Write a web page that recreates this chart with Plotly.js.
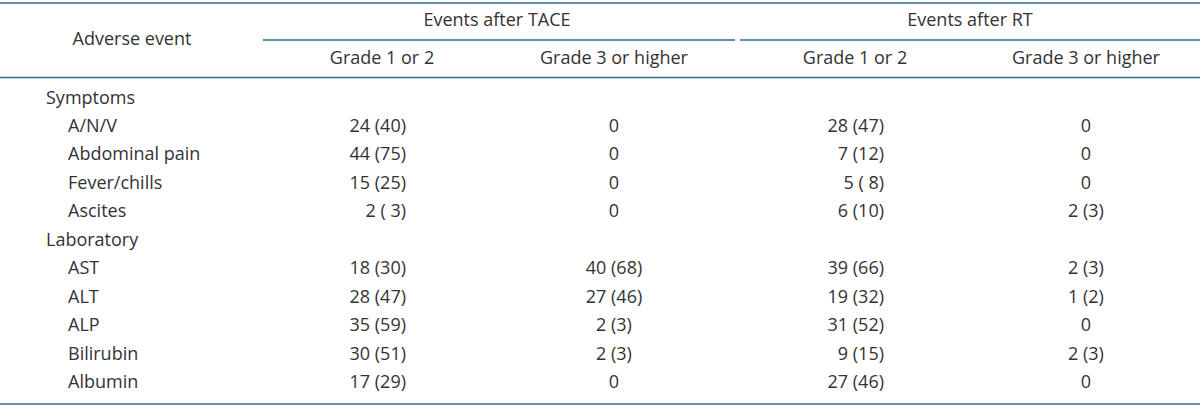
<!DOCTYPE html>
<html>
<head>
<meta charset="utf-8">
<script src="https://cdn.plot.ly/plotly-3.0.1.min.js"></script>
<style>
  html, body { margin: 0; padding: 0; background: #fff; }
  #table { width: 1200px; height: 408px; }
</style>
</head>
<body>
<div id="table"></div>
<script>
// Table content
var groups = ['Symptoms', 'Laboratory'];
var symptomItems = ['A/N/V', 'Abdominal pain', 'Fever/chills', 'Ascites'];
var labItems = ['AST', 'ALT', 'ALP', 'Bilirubin', 'Albumin'];

// n and % per item (symptoms first, then laboratory)
var taceLowN = [24, 44, 15, 2, 18, 28, 35, 30, 17];
var taceLowP = [40, 75, 25, 3, 30, 47, 59, 51, 29];
var taceHighN = [0, 0, 0, 0, 40, 27, 2, 2, 0];
var taceHighP = [0, 0, 0, 0, 68, 46, 3, 3, 0];
var rtLowN = [28, 7, 5, 6, 39, 19, 31, 9, 27];
var rtLowP = [47, 12, 8, 10, 66, 32, 52, 15, 46];
var rtHighN = [0, 0, 0, 2, 2, 1, 0, 2, 0];
var rtHighP = [0, 0, 0, 3, 3, 2, 0, 3, 0];

var topHeaders = ['Adverse event', 'Events after TACE', 'Events after RT'];
var subHeaders = ['Grade 1 or 2', 'Grade 3 or higher', 'Grade 1 or 2', 'Grade 3 or higher'];

// grade 1/2 columns pad single digit percents, e.g. "2 ( 3)"
function fmt(n, p, pad) {
    if (n === 0) return '0';
    var ps = String(p);
    if (pad && ps.length < 2) ps = ' ' + ps;
    return n + ' (' + ps + ')';
}

// layout constants (pixels)
var rowTop = 99, rowStep = 28.45;
var groupX = 46, itemX = 68;
var colX = [406, 614, 884, 1086];
var ink = '#333333';
var rule = '#2f6f8f';
var fontFam = 'Open Sans, sans-serif';
var fs = 18;

// rows: group label followed by its items
var labelText = [], labelX = [], labelY = [];
var itemRows = [];
var r = 0;
[symptomItems, labItems].forEach(function(items, g) {
    labelText.push(groups[g]); labelX.push(groupX); labelY.push(rowTop + r * rowStep); r++;
    items.forEach(function(it) {
        labelText.push(it); labelX.push(itemX); labelY.push(rowTop + r * rowStep);
        itemRows.push(rowTop + r * rowStep); r++;
    });
});

function col(nArr, pArr, pad) {
    return nArr.map(function(n, i) { return fmt(n, pArr[i], pad); });
}

function textTrace(x, y, text, pos) {
    return {
        type: 'scatter', mode: 'text',
        x: x, y: y, text: text,
        textposition: pos,
        textfont: {family: fontFam, size: fs, color: ink},
        hoverinfo: 'skip', showlegend: false, cliponaxis: false
    };
}

function fill(v) { return itemRows.map(function() { return v; }); }

var data = [
    textTrace(labelX, labelY, labelText, 'middle right'),
    textTrace(fill(colX[0]), itemRows, col(taceLowN, taceLowP, true), 'middle left'),
    textTrace(fill(colX[1]), itemRows, col(taceHighN, taceHighP, false), 'middle center'),
    textTrace(fill(colX[2]), itemRows, col(rtLowN, rtLowP, true), 'middle left'),
    textTrace(fill(colX[3]), itemRows, col(rtHighN, rtHighP, false), 'middle center'),
    // headers
    textTrace([132, 497, 970], [40, 21, 21], topHeaders, 'middle center'),
    textTrace([382, 614, 855, 1086], [59, 59, 59, 59], subHeaders, 'middle center')
];

function hline(x0, x1, y) {
    return {type: 'line', xref: 'x', yref: 'y', x0: x0, x1: x1, y0: y, y1: y,
            line: {color: rule, width: 1.5}};
}

var layout = {
    width: 1200, height: 408,
    margin: {l: 0, r: 0, t: 0, b: 0},
    paper_bgcolor: '#ffffff', plot_bgcolor: '#ffffff',
    xaxis: {range: [0, 1200], visible: false, fixedrange: true},
    yaxis: {range: [408, 0], visible: false, fixedrange: true},
    shapes: [
        hline(0, 1200, 3),
        hline(263, 735, 40),
        hline(740, 1200, 40),
        hline(0, 1200, 77.5),
        hline(0, 1200, 404)
    ]
};

Plotly.newPlot('table', data, layout, {staticPlot: true, displayModeBar: false});
</script>
</body>
</html>
